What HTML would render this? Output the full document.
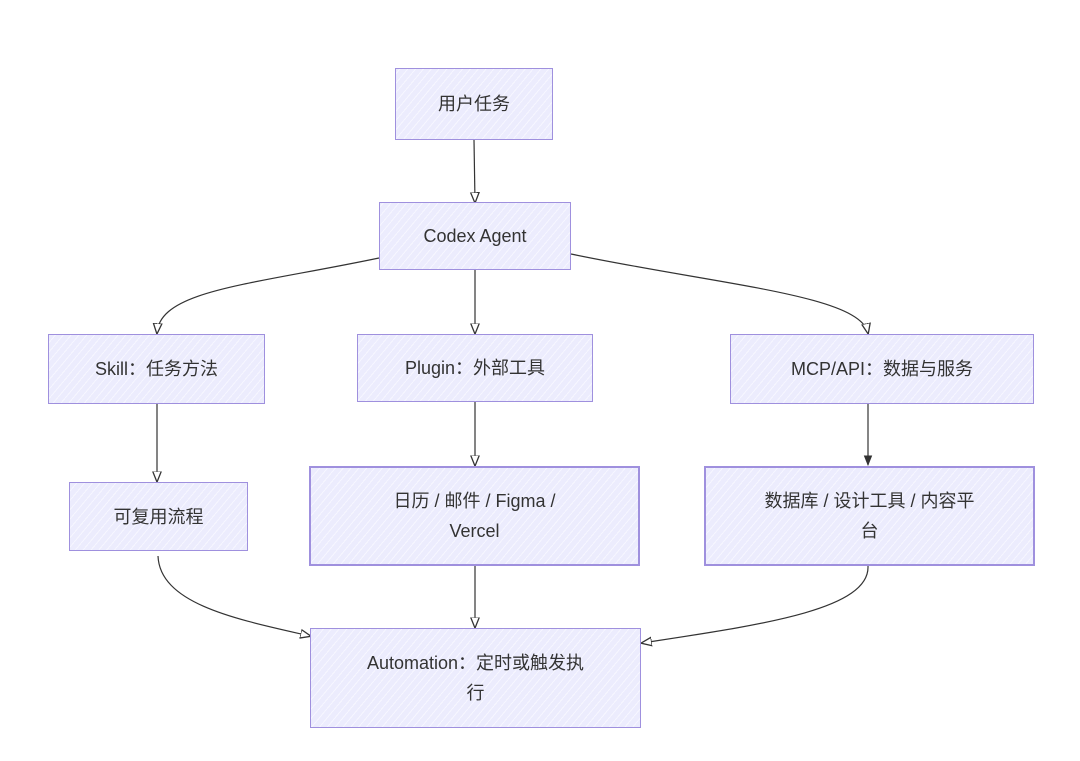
<!DOCTYPE html>
<html><head><meta charset="utf-8"><style>
body{margin:0;background:#fff;}
.b{position:absolute;box-sizing:border-box;border:1.6px solid #9f90de;background:#ececfd repeating-linear-gradient(-50deg,#ececfd 0 5px,#f6f6ff 5px 6px);display:flex;align-items:center;justify-content:center;text-align:center;font-family:"Liberation Sans","Noto Sans CJK SC",sans-serif;font-size:18px;color:#333;line-height:30px;padding:0;}
.t{border-width:2.2px;}
</style></head><body>
<div style="position:relative;width:1080px;height:761px;overflow:hidden">
<svg width="1080" height="761" style="position:absolute;left:0;top:0">
<defs><marker id="a" viewBox="0 0 10 10" refX="9" refY="5" markerWidth="9" markerHeight="9" orient="auto-start-reverse"><path d="M0,1L10,5L0,9Z" fill="#fff" stroke="#333" stroke-width="1.2"/></marker>
<marker id="f" viewBox="0 0 10 10" refX="9" refY="5" markerWidth="9" markerHeight="9" orient="auto"><path d="M0,1L10,5L0,9Z" fill="#333"/></marker></defs>
<g fill="none" stroke="#333" stroke-width="1.2">
<path d="M474,140L475,202" marker-end="url(#a)"/>
<path d="M379,258C250,285 160,290 157,333" marker-end="url(#a)"/>
<path d="M475,270L475,333" marker-end="url(#a)"/>
<path d="M571,254C720,285 860,295 868,333" marker-end="url(#a)"/>
<path d="M157,404L157,481" marker-end="url(#a)"/>
<path d="M475,402L475,465" marker-end="url(#a)"/>
<path d="M868,404L868,465" marker-end="url(#f)"/>
<path d="M158,556C160,605 240,620 310,636" marker-end="url(#a)"/>
<path d="M475,566L475,627" marker-end="url(#a)"/>
<path d="M868,566C870,610 760,625 642,643" marker-end="url(#a)"/>
</g></svg>
<div class="b" style="left:395px;top:68px;width:158px;height:72px">用户任务</div>
<div class="b" style="left:379px;top:202px;width:192px;height:68px">Codex Agent</div>
<div class="b" style="left:48px;top:334px;width:217px;height:70px">Skill：任务方法</div>
<div class="b" style="left:357px;top:334px;width:236px;height:68px">Plugin：外部工具</div>
<div class="b" style="left:730px;top:334px;width:304px;height:70px">MCP/API：数据与服务</div>
<div class="b" style="left:69px;top:482px;width:179px;height:69px">可复用流程</div>
<div class="b t" style="left:309px;top:466px;width:331px;height:100px">日历 / 邮件 / Figma /<br>Vercel</div>
<div class="b t" style="left:704px;top:466px;width:331px;height:100px">数据库 / 设计工具 / 内容平<br>台</div>
<div class="b" style="left:310px;top:628px;width:331px;height:100px">Automation：定时或触发执<br>行</div>
</div></body></html>
